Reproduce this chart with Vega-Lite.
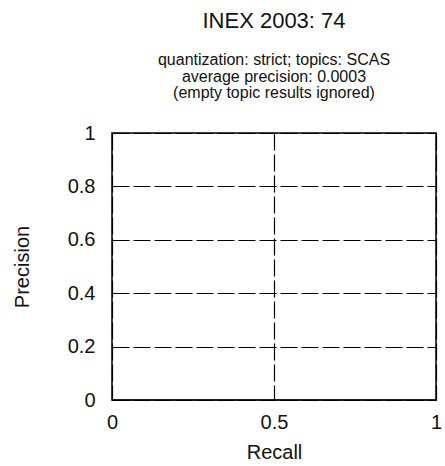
{
  "$schema": "https://vega.github.io/schema/vega-lite/v6.json",
  "autosize": {"type": "none"},
  "padding": {"left": 112, "top": 133, "right": 9, "bottom": 66},
  "width": 324,
  "height": 267,
  "background": "white",
  "title": {
    "text": "INEX 2003: 74",
    "subtitle": ["quantization: strict; topics: SCAS", "average precision: 0.0003", "(empty topic results ignored)"],
    "anchor": "middle",
    "frame": "group",
    "font": "Liberation Sans",
    "fontSize": 22,
    "fontWeight": "normal",
    "color": "#111",
    "subtitleFont": "Liberation Sans",
    "subtitleFontSize": 16,
    "subtitleColor": "#111",
    "subtitleLineHeight": 16.5,
    "subtitlePadding": 19,
    "offset": 21
  },
  "data": {"values": [
    {"recall": 0, "precision": 0},
    {"recall": 0.1, "precision": 0},
    {"recall": 0.2, "precision": 0},
    {"recall": 0.3, "precision": 0},
    {"recall": 0.4, "precision": 0},
    {"recall": 0.5, "precision": 0},
    {"recall": 0.6, "precision": 0},
    {"recall": 0.7, "precision": 0},
    {"recall": 0.8, "precision": 0},
    {"recall": 0.9, "precision": 0},
    {"recall": 1, "precision": 0}
  ]},
  "mark": {"type": "line", "color": "black", "strokeWidth": 1},
  "encoding": {
    "x": {
      "field": "recall", "type": "quantitative",
      "scale": {"domain": [0, 1], "nice": false, "zero": false},
      "axis": {
        "title": "Recall", "values": [0, 0.5, 1], "format": "~g",
        "grid": true, "gridColor": "black", "gridDash": [17, 4], "gridWidth": 1.2, "gridOpacity": 1,
        "ticks": false, "tickSize": 0, "domain": false,
        "labelFont": "Liberation Sans", "labelFontSize": 20, "labelColor": "#111", "labelPadding": 12,
        "labelFlush": false,
        "titleFont": "Liberation Sans", "titleFontSize": 20, "titleFontWeight": "normal", "titleColor": "#111", "titlePadding": 10
      }
    },
    "y": {
      "field": "precision", "type": "quantitative",
      "scale": {"domain": [0, 1], "nice": false, "zero": false},
      "axis": {
        "title": "Precision", "values": [0, 0.2, 0.4, 0.6, 0.8, 1], "format": "~g",
        "grid": true, "gridColor": "black", "gridDash": [17, 4], "gridWidth": 1.2, "gridOpacity": 1,
        "ticks": false, "tickSize": 0, "domain": false,
        "labelFont": "Liberation Sans", "labelFontSize": 20, "labelColor": "#111", "labelPadding": 17,
        "labelFlush": false,
        "titleFont": "Liberation Sans", "titleFontSize": 20, "titleFontWeight": "normal", "titleColor": "#111", "titlePadding": 35
      }
    }
  },
  "config": {
    "view": {"stroke": "black", "strokeWidth": 1.5}
  }
}
